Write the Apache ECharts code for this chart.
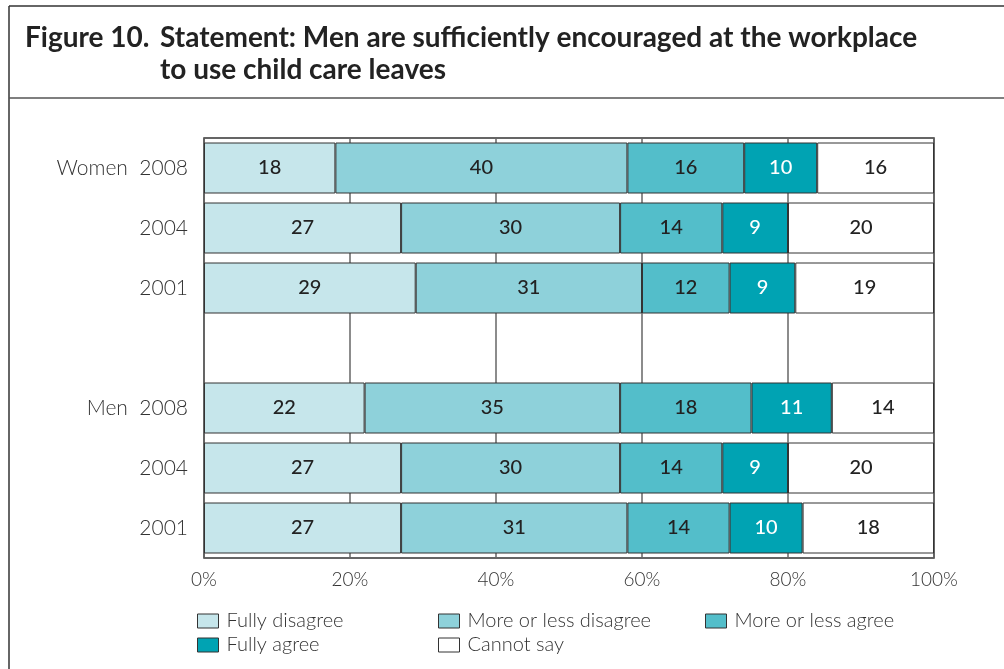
<!DOCTYPE html>
<html>
<head>
<meta charset="utf-8">
<script src="https://cdn.jsdelivr.net/npm/echarts@6/dist/echarts.min.js"></script>
<style>
  html, body { margin: 0; padding: 0; background: #fff; }
  #chart { width: 1004px; height: 669px; }
</style>
</head>
<body>
<div id="chart"></div>
<script>
// Row labels, top to bottom (empty row separates women and men)
const categories = ['Women  2008', '2004', '2001', '', 'Men  2008', '2004', '2001'];
const xTicks = ['0%', '20%', '40%', '60%', '80%', '100%'];

// Shares (%) per answer, one value per row
const fullyDisagree     = [18, 27, 29, null, 22, 27, 27];
const moreLessDisagree  = [40, 30, 31, null, 35, 30, 31];
const moreLessAgree     = [16, 14, 12, null, 18, 14, 14];
const fullyAgree        = [10,  9,  9, null, 11,  9, 10];
const cannotSay         = [16, 20, 19, null, 14, 20, 18];

const FONT = 'Lato, "Open Sans", sans-serif';

function makeSeries(name, data, color, labelColor) {
  return {
    name: name,
    type: 'bar',
    stack: 'total',
    data: data,
    barWidth: '85%',
    itemStyle: { color: color, borderColor: '#333', borderWidth: 1 },
    label: {
      show: true,
      position: 'inside',
      color: labelColor,
      fontFamily: FONT,
      fontSize: 20,
      fontWeight: 500,
      formatter: p => (p.value == null ? '' : String(p.value))
    },
    emphasis: { disabled: true }
  };
}

const legendText = { fontFamily: FONT, fontSize: 20, fontWeight: 300, color: '#333', padding: [0, 0, 0, 3] };
function legendBlock(left, names) {
  return {
    left: left, top: 606, orient: 'vertical', itemGap: 4,
    icon: 'rect', itemWidth: 21, itemHeight: 14,
    itemStyle: { borderColor: '#333', borderWidth: 1 },
    textStyle: legendText,
    data: names,
    selectedMode: false
  };
}

const titleStyle = { fontFamily: FONT, fontWeight: 'bold', fontSize: 28, fill: '#222' };

const chart = echarts.init(document.getElementById('chart'));
chart.setOption({
  animation: false,
  backgroundColor: '#fff',
  grid: { left: 204, right: 70, top: 138, bottom: 111, show: true, borderColor: '#333', borderWidth: 1.5, backgroundColor: 'transparent' },
  xAxis: {
    type: 'value', min: 0, max: 100, interval: 20,
    axisLine: { show: false },
    axisTick: { show: false },
    splitLine: { show: true, lineStyle: { color: '#666', width: 1.5 } },
    axisLabel: {
      margin: 12, fontFamily: FONT, fontSize: 19, fontWeight: 300, color: '#333',
      formatter: v => xTicks[Math.round(v / 20)]
    }
  },
  yAxis: {
    type: 'category', inverse: true, data: categories,
    axisLine: { show: false }, axisTick: { show: false }, splitLine: { show: false },
    axisLabel: { margin: 16, fontFamily: FONT, fontSize: 21, fontWeight: 300, color: '#333' }
  },
  legend: [
    legendBlock(192, ['Fully disagree', 'Fully agree']),
    legendBlock(433, ['More or less disagree', 'Cannot say']),
    legendBlock(700, ['More or less agree'])
  ],
  series: [
    makeSeries('Fully disagree', fullyDisagree, '#C6E6EB', '#222'),
    makeSeries('More or less disagree', moreLessDisagree, '#8ED1DA', '#222'),
    makeSeries('More or less agree', moreLessAgree, '#53BECA', '#222'),
    makeSeries('Fully agree', fullyAgree, '#00A3B3', '#fff'),
    makeSeries('Cannot say', cannotSay, '#ffffff', '#222')
  ],
  graphic: [
    // outer frame: top edge, left edge, and the line under the heading
    { type: 'line', shape: { x1: 9, y1: 6, x2: 1004, y2: 6 }, style: { stroke: '#333', lineWidth: 1.5 } },
    { type: 'line', shape: { x1: 9, y1: 6, x2: 9, y2: 669 }, style: { stroke: '#333', lineWidth: 1.5 } },
    { type: 'line', shape: { x1: 9, y1: 98, x2: 1004, y2: 98 }, style: { stroke: '#555', lineWidth: 1.5 } },
    { type: 'text', left: 25, top: 24, style: Object.assign({ text: 'Figure 10.' }, titleStyle) },
    { type: 'text', left: 160, top: 24, style: Object.assign({ text: 'Statement: Men are sufficiently encouraged at the workplace' }, titleStyle) },
    { type: 'text', left: 160, top: 56, style: Object.assign({ text: 'to use child care leaves' }, titleStyle) }
  ]
});
</script>
</body>
</html>
